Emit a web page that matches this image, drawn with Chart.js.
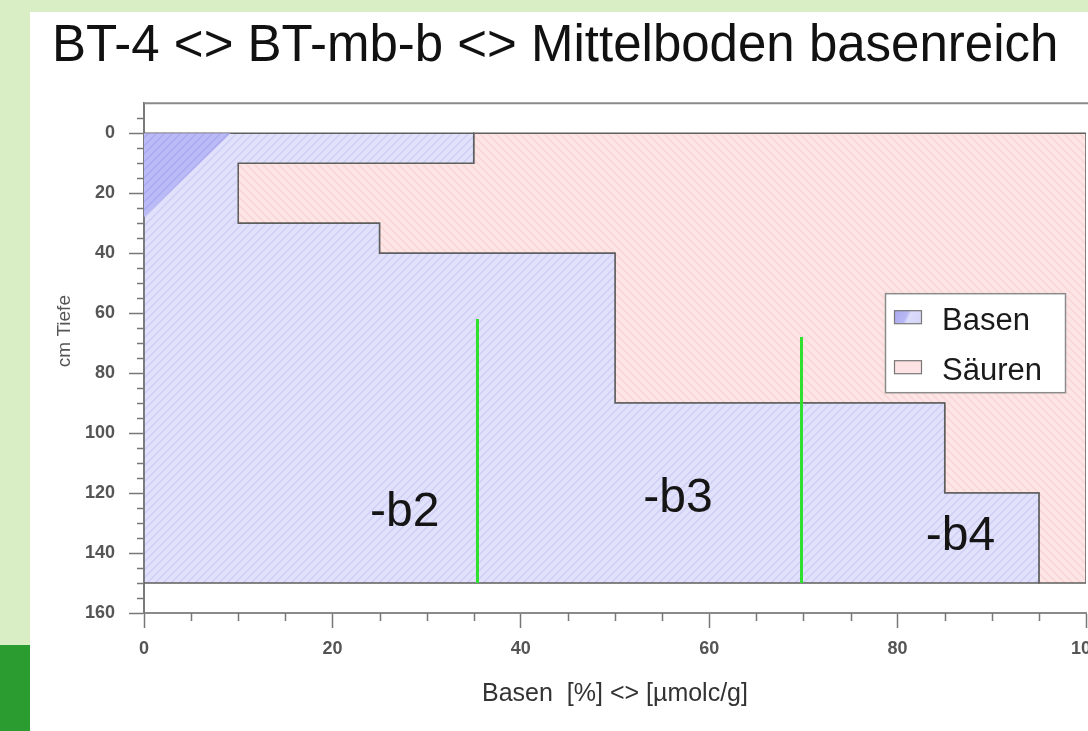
<!DOCTYPE html>
<html><head><meta charset="utf-8">
<script src="https://cdn.jsdelivr.net/npm/chart.js@4.4.1/dist/chart.umd.min.js"></script>
<style>
html,body{margin:0;padding:0;}
body{width:1088px;height:731px;background:#d9eec4;position:relative;overflow:hidden;}
#corner{position:absolute;left:0;top:645px;width:30px;height:86px;background:#2b9c2f;}
#panel{position:absolute;left:30px;top:12px;width:1058px;height:719px;background:#ffffff;}
canvas{display:block;}
</style></head><body>
<div id="corner"></div>
<div id="panel"><canvas id="c" width="1058" height="719"></canvas></div>
<script>
// ---- data ----
const chartTitle = 'BT-4 <> BT-mb-b <> Mittelboden basenreich';
const xAxisTitle = 'Basen  [%] <> [µmolc/g]';
const yAxisTitle = 'cm Tiefe';
const xTickLabels = [0, 20, 40, 60, 80, 100];
const yTickLabels = [0, 20, 40, 60, 80, 100, 120, 140, 160];
const layerTop = [0, 10, 30, 40, 90, 120];
const layerBottom = [10, 30, 40, 90, 120, 150];
const basenShare = [35, 10, 25, 50, 85, 95];
const wedgeX = [0, 9.2, 0];
const wedgeY = [0, 0, 28];
const markerX = [35.4, 69.8];
const markerTop = [62, 68];
const markerBottom = [150, 150];
const horizonNames = ['-b2', '-b3', '-b4'];
const horizonX = [24, 53, 83];
const horizonY = [131, 126.3, 139];
const legendNames = ['Basen', 'Säuren'];

const FONT = '"Liberation Sans", Arial, Helvetica, sans-serif';

function makePattern(bg, stripe, dir, size, lw) {
  const c = document.createElement('canvas');
  c.width = size; c.height = size;
  const g = c.getContext('2d');
  g.fillStyle = bg; g.fillRect(0, 0, size, size);
  g.strokeStyle = stripe; g.lineWidth = lw;
  g.beginPath();
  if (dir === '/') {
    g.moveTo(-1, size + 1); g.lineTo(size + 1, -1);
    g.moveTo(-1 - size, size + 1); g.lineTo(1, -1);
    g.moveTo(size - 1, size + 1); g.lineTo(2 * size + 1, -1);
  } else {
    g.moveTo(-1, -1); g.lineTo(size + 1, size + 1);
    g.moveTo(-1 - size, -1); g.lineTo(1, size + 1);
    g.moveTo(size - 1, -1); g.lineTo(2 * size + 1, size + 1);
  }
  g.stroke();
  return g.createPattern(c, 'repeat');
}
const basenPattern = makePattern('#e1e1fb', '#cfcff5', '/', 8, 1.5);
const saeurenPattern = makePattern('#fde5e5', '#f9d5d5', '\\', 8, 1.5);
const wedgePattern = makePattern('#babaf6', '#aaaaf0', '/', 8, 1.5);

// polygons built from layer arrays
const basenPoly = [{x: 0, y: layerTop[0]}];
const saeurenPoly = [{x: 100, y: layerTop[0]}];
layerTop.forEach((t, i) => {
  basenPoly.push({x: basenShare[i], y: t}, {x: basenShare[i], y: layerBottom[i]});
  saeurenPoly.push({x: basenShare[i], y: t}, {x: basenShare[i], y: layerBottom[i]});
});
basenPoly.push({x: 0, y: layerBottom[layerBottom.length - 1]}, {x: 0, y: layerTop[0]});
saeurenPoly.push({x: 100, y: layerBottom[layerBottom.length - 1]}, {x: 100, y: layerTop[0]});
const wedgePoly = wedgeX.map((v, i) => ({x: v, y: wedgeY[i]}));
wedgePoly.push({x: wedgeX[0], y: wedgeY[0]});

const extras = {
  id: 'extras',
  afterDatasetsDraw(chart) {
    const {ctx, chartArea: a, scales: {x, y}} = chart;
    ctx.save();
    // top frame
    ctx.strokeStyle = '#8a8a8a'; ctx.lineWidth = 2;
    ctx.beginPath(); ctx.moveTo(a.left, a.top); ctx.lineTo(a.right + 10, a.top); ctx.stroke();
    // minor ticks
    ctx.strokeStyle = '#777'; ctx.lineWidth = 1.5;
    y.ticks.forEach(t => {
      if (!yTickLabels.includes(t.value) && t.value > y.min) {
        const py = Math.round(y.getPixelForValue(t.value)) + 0.5;
        ctx.beginPath(); ctx.moveTo(a.left - 7, py); ctx.lineTo(a.left, py); ctx.stroke();
      }
    });
    x.ticks.forEach(t => {
      if (!xTickLabels.includes(t.value)) {
        const px = Math.round(x.getPixelForValue(t.value)) + 0.5;
        ctx.beginPath(); ctx.moveTo(px, a.bottom); ctx.lineTo(px, a.bottom + 8); ctx.stroke();
      }
    });
    // horizon labels
    ctx.fillStyle = '#151515';
    ctx.font = '48px ' + FONT;
    ctx.textAlign = 'left'; ctx.textBaseline = 'alphabetic';
    horizonNames.forEach((n, i) => ctx.fillText(n, x.getPixelForValue(horizonX[i]), y.getPixelForValue(horizonY[i])));
    // y axis title
    ctx.save();
    ctx.translate(35, (a.top + a.bottom) / 2 - 27);
    ctx.rotate(-Math.PI / 2);
    ctx.fillStyle = '#555'; ctx.font = '19px ' + FONT;
    ctx.textAlign = 'center'; ctx.textBaseline = 'middle';
    ctx.fillText(yAxisTitle, 0, 0);
    ctx.restore();
    // legend
    const bl = a.right - 201, bt = a.top + 190, bw = 180, bh = 99;
    ctx.fillStyle = '#ffffff'; ctx.fillRect(bl, bt, bw, bh);
    ctx.strokeStyle = '#8c8c8c'; ctx.lineWidth = 1.5; ctx.strokeRect(bl + 0.5, bt + 0.5, bw, bh);
    const rows = [17, 67];
    const grad = ctx.createLinearGradient(bl + 9, bt + rows[0], bl + 36, bt + rows[0] + 13);
    grad.addColorStop(0, '#a8a8f0'); grad.addColorStop(0.45, '#b8b8f5'); grad.addColorStop(0.55, '#dcdcfb'); grad.addColorStop(1, '#d4d4f8');
    const fills = [grad, '#fde3e3'];
    ctx.font = '31px ' + FONT; ctx.textBaseline = 'alphabetic';
    legendNames.forEach((n, i) => {
      ctx.fillStyle = fills[i];
      ctx.fillRect(bl + 9, bt + rows[i], 27, 13);
      ctx.strokeStyle = '#777'; ctx.lineWidth = 1.2;
      ctx.strokeRect(bl + 9.5, bt + rows[i] + 0.5, 27, 13);
      ctx.fillStyle = '#1a1a1a';
      ctx.fillText(n, bl + 57, bt + rows[i] + 20);
    });
    ctx.restore();
  }
};

const tickFont = {family: FONT, size: 18, weight: 'bold'};

new Chart(document.getElementById('c'), {
  type: 'line',
  data: {
    datasets: [
      ...markerX.map((mx, i) => ({
        label: 'marker' + (i + 1),
        data: [{x: mx, y: markerTop[i]}, {x: mx, y: markerBottom[i]}],
        borderColor: '#2fe02f', borderWidth: 3, pointRadius: 0, fill: false
      })),
      {label: 'wedge', data: wedgePoly, borderWidth: 0, borderColor: 'rgba(0,0,0,0)',
       backgroundColor: wedgePattern, fill: 'shape', pointRadius: 0},
      {label: legendNames[0], data: basenPoly, borderColor: '#5e5e5e', borderWidth: 1.5,
       backgroundColor: basenPattern, fill: 'shape', pointRadius: 0},
      {label: legendNames[1], data: saeurenPoly, borderColor: '#5e5e5e', borderWidth: 1.5,
       backgroundColor: saeurenPattern, fill: 'shape', pointRadius: 0}
    ]
  },
  options: {
    responsive: false, animation: false, devicePixelRatio: 1, events: [],
    layout: {padding: {left: 22, right: 2, top: 0, bottom: 0}},
    elements: {line: {tension: 0}},
    plugins: {
      legend: {display: false},
      tooltip: {enabled: false},
      title: {display: true, text: chartTitle, align: 'start', color: '#111',
              font: {family: FONT, size: 51, weight: 'normal', lineHeight: 1.2},
              padding: {top: 4, bottom: 26}}
    },
    scales: {
      x: {
        type: 'linear', min: 0, max: 100,
        ticks: {stepSize: 5, autoSkip: false, maxRotation: 0, padding: 10, color: '#555', font: tickFont,
                callback: v => xTickLabels.includes(v) ? String(v) : ''},
        grid: {drawOnChartArea: false, tickLength: 15, tickWidth: 1.5,
               tickColor: c => (c.tick && xTickLabels.includes(c.tick.value)) ? '#777' : 'rgba(0,0,0,0)'},
        border: {color: '#8a8a8a', width: 2},
        title: {display: true, text: xAxisTitle, color: '#333', font: {family: FONT, size: 25, lineHeight: 1.2},
                padding: {top: 0, bottom: 22}},
        afterFit(s) { s.height = 118; s.paddingLeft = 0; s.paddingRight = 0; }
      },
      y: {
        type: 'linear', reverse: true, min: -10, max: 160,
        ticks: {stepSize: 5, autoSkip: false, padding: 14, color: '#555', font: tickFont,
                callback: v => yTickLabels.includes(v) ? String(v) : ''},
        grid: {drawOnChartArea: false, tickLength: 15, tickWidth: 1.5,
               tickColor: c => (c.tick && yTickLabels.includes(c.tick.value)) ? '#777' : 'rgba(0,0,0,0)'},
        border: {color: '#7a7a7a', width: 2},
        afterFit(s) { s.width = 92; s.paddingTop = 0; s.paddingBottom = 0; }
      }
    }
  },
  plugins: [extras]
});
</script>
</body></html>
